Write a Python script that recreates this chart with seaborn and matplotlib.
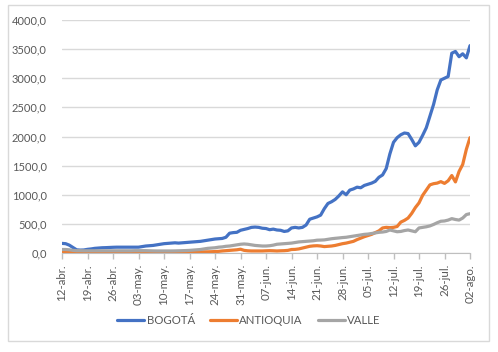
import pandas as pd
import matplotlib
matplotlib.use("Agg")
import matplotlib.pyplot as plt
import seaborn as sns
from matplotlib.patches import Rectangle

# daily values 12-abr .. 02-ago (113 days)
bogota = [
    165, 160, 135, 95, 55, 50, 52,
    63, 70, 80, 85, 90, 92, 95,
    98, 100, 100, 100, 100, 100, 100,
    100, 110, 120, 125, 130, 140, 150,
    160, 165, 170, 175, 170, 175, 180,
    185, 190, 195, 200, 210, 220, 230,
    240, 245, 250, 270, 340, 350, 355,
    390, 405, 420, 440, 445, 440, 425,
    420, 400, 410, 395, 390, 370, 380,
    430, 440, 430, 440, 480, 580, 600,
    620, 650, 760, 850, 880, 920, 980,
    1050, 1000, 1080, 1100, 1130, 1120, 1160,
    1180, 1200, 1230, 1300, 1340, 1450, 1700,
    1900, 1980, 2030, 2060, 2050, 1950, 1840,
    1900, 2020, 2150, 2350, 2550, 2800, 2970,
    3000, 3030, 3430, 3460, 3370, 3420, 3350,
    3560,
]
antioquia = [
    20, 25, 15, 5, 5, 5, 5,
    5, 5, 5, 5, 5, 5, 5,
    5, 5, 5, 5, 5, 5, 5,
    5, 5, 5, 8, 8, 8, 8,
    10, 10, 10, 10, 10, 10, 10,
    12, 15, 15, 18, 20, 20, 22,
    25, 28, 35, 40, 45, 50, 55,
    65, 45, 38, 35, 35, 35, 35,
    38, 40, 38, 35, 38, 40, 45,
    60, 62, 70, 85, 100, 115, 122,
    125, 120, 110, 115, 120, 130, 145,
    160, 170, 185, 200, 230, 255, 280,
    300, 320, 350, 380, 430, 440, 435,
    440, 455, 530, 560, 600, 680, 780,
    860, 990, 1080, 1170, 1190, 1200, 1225,
    1195, 1240, 1330, 1220, 1400, 1520, 1780,
    1980,
]
valle = [
    60, 60, 55, 45, 40, 40, 38,
    38, 38, 38, 38, 38, 38, 38,
    38, 38, 38, 38, 38, 38, 40,
    40, 40, 40, 38, 36, 35, 35,
    35, 35, 35, 36, 38, 40, 42,
    45, 50, 55, 60, 70, 80, 85,
    90, 100, 105, 115, 120, 130, 140,
    150, 155, 150, 140, 130, 125, 120,
    120, 125, 135, 150, 155, 160, 165,
    170, 180, 190, 195, 200, 205, 210,
    220, 222, 225, 235, 245, 252, 258,
    265, 270, 280, 290, 300, 310, 320,
    325, 335, 345, 355, 360, 370, 395,
    380, 365, 370, 385, 395, 380, 365,
    430, 440, 450, 465, 490, 520, 545,
    550, 565, 590, 575, 565, 600, 660,
    675,
]
tick_labels = ["12-abr.", "19-abr.", "26-abr.", "03-may.", "10-may.", "17-may.",
               "24-may.", "31-may.", "07-jun.", "14-jun.", "21-jun.", "28-jun.",
               "05-jul.", "12-jul.", "19-jul.", "26-jul.", "02-ago."]
series_names = ["BOGOTÁ", "ANTIOQUIA", "VALLE"]

days = list(range(len(bogota)))
df = pd.DataFrame({"dia": days * 3,
                   "valor": bogota + antioquia + valle,
                   "serie": [s for s, v in zip(series_names, [bogota, antioquia, valle]) for _ in v]})

sns.set_style("white")
plt.rcParams["font.family"] = ["Lato", "DejaVu Sans"]

fig = plt.figure(figsize=(4.98, 3.52), dpi=100)
ax = fig.add_axes([62 / 498, 99 / 352, 408 / 498, 233 / 352])

# chart area border
fig.patches.append(Rectangle((8 / 498, 11 / 352), 481 / 498, 336 / 352,
                             transform=fig.transFigure, fill=False,
                             edgecolor="#d9d9d9", linewidth=1))

sns.lineplot(data=df, x="dia", y="valor", hue="serie", hue_order=series_names,
             palette=["#4472C4", "#ED7D31", "#A5A5A5"], linewidth=2.3,
             ax=ax, legend=False)

ax.set_xlim(0, 112)
ax.set_ylim(0, 4000)
ax.set_yticks(range(0, 4001, 500))
ax.set_yticklabels([f"{v},0" for v in range(0, 4001, 500)])
ax.set_xticks(range(0, 113, 7))
ax.set_xticklabels(tick_labels, rotation=90)
ax.set_xlabel("")
ax.set_ylabel("")
ax.grid(axis="y", color="#d9d9d9", linewidth=1)
ax.set_axisbelow(True)
for s in ["left", "right", "top"]:
    ax.spines[s].set_visible(False)
ax.spines["bottom"].set_color("#bfbfbf")
ax.tick_params(axis="y", length=0, pad=11, labelsize=8, labelcolor="#595959")
ax.tick_params(axis="x", length=4, width=1, color="#bfbfbf", pad=4,
               labelsize=8.3, labelcolor="#595959", bottom=True)

handles = [plt.Line2D([], [], color=c, linewidth=2.3) for c in ["#4472C4", "#ED7D31", "#A5A5A5"]]
fig.legend(handles, series_names, loc="center", bbox_to_anchor=(0.5, 32 / 352),
           ncol=3, frameon=False, fontsize=8.2, handlelength=2.4,
           handletextpad=0.2, columnspacing=1.3, labelcolor="#595959")

fig.savefig("out.png", dpi=100)
